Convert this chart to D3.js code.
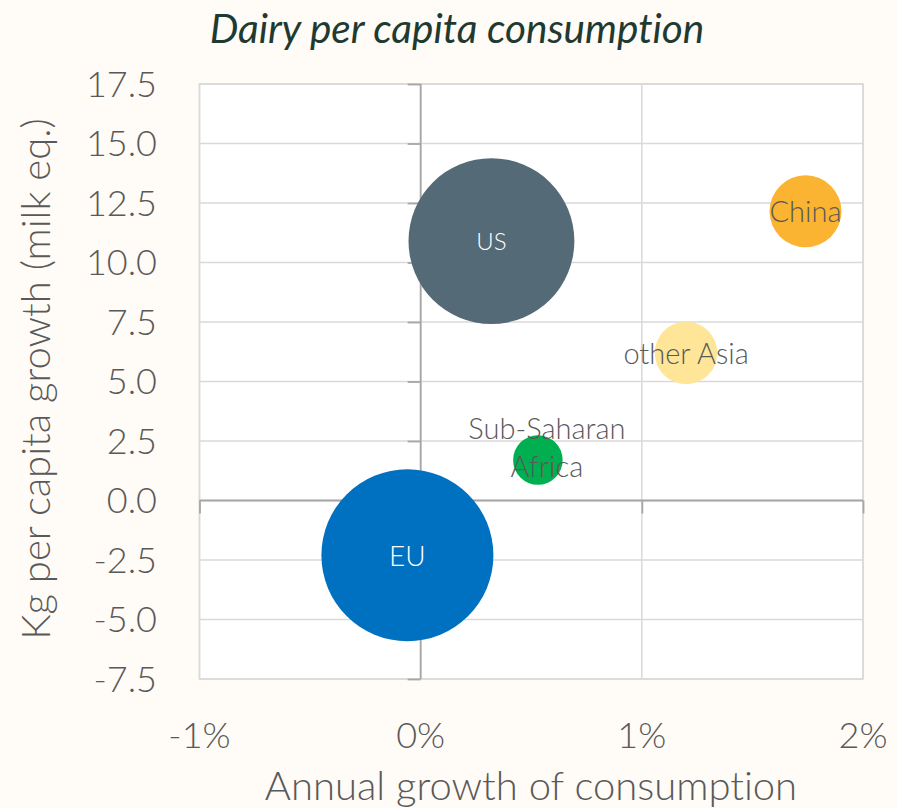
<!DOCTYPE html>
<html>
<head>
<meta charset="utf-8">
<script src="https://cdnjs.cloudflare.com/ajax/libs/d3/7.8.5/d3.min.js"></script>
<style>
  body { margin: 0; background: #fffbf6; }
  svg { display: block; }
  text { font-family: Lato, "Open Sans", sans-serif; font-variant-ligatures: none; }
</style>
</head>
<body>
<svg id="chart" width="897" height="808"></svg>
<script>
// bubble data
var regions = ["US", "EU", "China", "other Asia", "Sub-Saharan Africa"];
var growthPct = [0.32, -0.06, 1.74, 1.20, 0.53];     // annual growth of consumption, %
var kgGrowth = [10.9, -2.3, 12.15, 6.2, 1.7];         // kg per capita growth
var bubbleSize = [93, 100, 17.5, 13.2, 8.3];          // relative bubble size
var colors = ["#546a76", "#0070c0", "#fbb332", "#ffe597", "#00b050"];
var labelColors = ["#ffffff", "#ffffff", "#595959", "#595959", "#595959"];
var labelSizes = [24, 28, 29, 29, 29];

var xTicks = [-1, 0, 1, 2];
var yTicks = [17.5, 15, 12.5, 10, 7.5, 5, 2.5, 0, -2.5, -5, -7.5];

var svg = d3.select("svg"),
    width = +svg.attr("width"),
    height = +svg.attr("height");

var x = d3.scaleLinear().domain([-1, 2]).range([199.5, 863]);
var y = d3.scaleLinear().domain([-7.5, 17.5]).range([679, 84]);
var r = d3.scaleSqrt().domain([0, 100]).range([0, 86]);

var data = regions.map(function(d, i) {
    return {name: d, gx: growthPct[i], gy: kgGrowth[i], size: bubbleSize[i],
            color: colors[i], lc: labelColors[i], ls: labelSizes[i]};
});

// title
svg.append("text")
    .attr("x", 457)
    .attr("y", 43)
    .attr("text-anchor", "middle")
    .style("font-style", "italic")
    .style("font-size", "40.5px")
    .attr("fill", "#1e3a31")
    .text("Dairy per capita consumption");

// plot area
svg.append("rect")
    .attr("x", x(-1)).attr("y", y(17.5))
    .attr("width", x(2) - x(-1)).attr("height", y(-7.5) - y(17.5))
    .attr("fill", "#ffffff")
    .attr("stroke", "#d9d9d9")
    .attr("stroke-width", 1.5);

// gridlines
svg.append("g").selectAll("line")
    .data(yTicks)
    .enter().append("line")
    .attr("x1", x(-1)).attr("x2", x(2))
    .attr("y1", function(d) { return y(d); })
    .attr("y2", function(d) { return y(d); })
    .attr("stroke", "#d9d9d9").attr("stroke-width", 1.5);

svg.append("g").selectAll("line")
    .data(xTicks)
    .enter().append("line")
    .attr("y1", y(17.5)).attr("y2", y(-7.5))
    .attr("x1", function(d) { return x(d); })
    .attr("x2", function(d) { return x(d); })
    .attr("stroke", "#d9d9d9").attr("stroke-width", 1.5);

// axes crossing at zero
var yAxis = d3.axisLeft(y).tickValues(yTicks).tickSize(13).tickFormat("");
var xAxis = d3.axisBottom(x).tickValues(xTicks).tickSize(13).tickFormat("");

var ya = svg.append("g").attr("transform", "translate(" + x(0) + ",0)").call(yAxis);
var xa = svg.append("g").attr("transform", "translate(0," + y(0) + ")").call(xAxis);
[ya, xa].forEach(function(a) {
    a.select(".domain").attr("stroke", "#a6a6a6").attr("stroke-width", 1.8);
    a.selectAll(".tick line").attr("stroke", "#a6a6a6").attr("stroke-width", 1.8);
});
ya.select(".domain").attr("d", "M0," + y(17.5) + "V" + y(-7.5));
xa.select(".domain").attr("d", "M" + x(-1) + ",0H" + x(2));

// tick labels (plain hyphen for minus, like the original)
svg.append("g").selectAll("text")
    .data(yTicks)
    .enter().append("text")
    .attr("x", 157)
    .attr("y", function(d) { return y(d); })
    .attr("dy", "0.36em")
    .attr("text-anchor", "end")
    .style("font-size", "36px")
    .style("font-weight", 300)
    .attr("fill", "#595959")
    .text(function(d) { return d3.format(".1f")(d).replace("\u2212", "-"); });

svg.append("g").selectAll("text")
    .data(xTicks)
    .enter().append("text")
    .attr("x", function(d) { return x(d); })
    .attr("y", 748)
    .attr("text-anchor", "middle")
    .style("font-size", "36px")
    .style("font-weight", 300)
    .attr("fill", "#595959")
    .text(function(d) { return d + "%"; });

// axis titles
svg.append("text")
    .attr("transform", "translate(50,379) rotate(-90)")
    .attr("text-anchor", "middle")
    .style("font-size", "40px")
    .style("font-weight", 300)
    .attr("fill", "#595959")
    .text("Kg per capita growth (milk eq.)");

svg.append("text")
    .attr("x", 531)
    .attr("y", 800)
    .attr("text-anchor", "middle")
    .style("font-size", "40px")
    .style("font-weight", 300)
    .attr("fill", "#595959")
    .text("Annual growth of consumption");

// bubbles
var bubbles = svg.append("g").attr("class", "bubbles")
    .selectAll("circle")
    .data(data)
    .enter().append("circle")
    .attr("cx", function(d) { return x(d.gx); })
    .attr("cy", function(d) { return y(d.gy); })
    .attr("r", function(d) { return r(d.size); })
    .attr("fill", function(d) { return d.color; });

// labels (Sub-Saharan Africa wraps on two lines)
var labels = svg.append("g").selectAll("text")
    .data(data)
    .enter().append("text")
    .attr("text-anchor", "middle")
    .attr("fill", function(d) { return d.lc; })
    .style("font-size", function(d) { return d.ls + "px"; })
    .style("font-weight", 300);

labels.each(function(d) {
    var t = d3.select(this);
    var cx = x(d.gx), cy = y(d.gy);
    if (d.name == "Sub-Saharan Africa") {
        t.append("tspan").attr("x", cx + 9).attr("y", cy - 31).attr("dy", "0.35em").text("Sub-Saharan");
        t.append("tspan").attr("x", cx + 9).attr("y", cy + 7).attr("dy", "0.35em").text("Africa");
    } else {
        t.attr("x", cx).attr("y", cy + 1).attr("dy", "0.35em").text(d.name);
    }
});
</script>
</body>
</html>
